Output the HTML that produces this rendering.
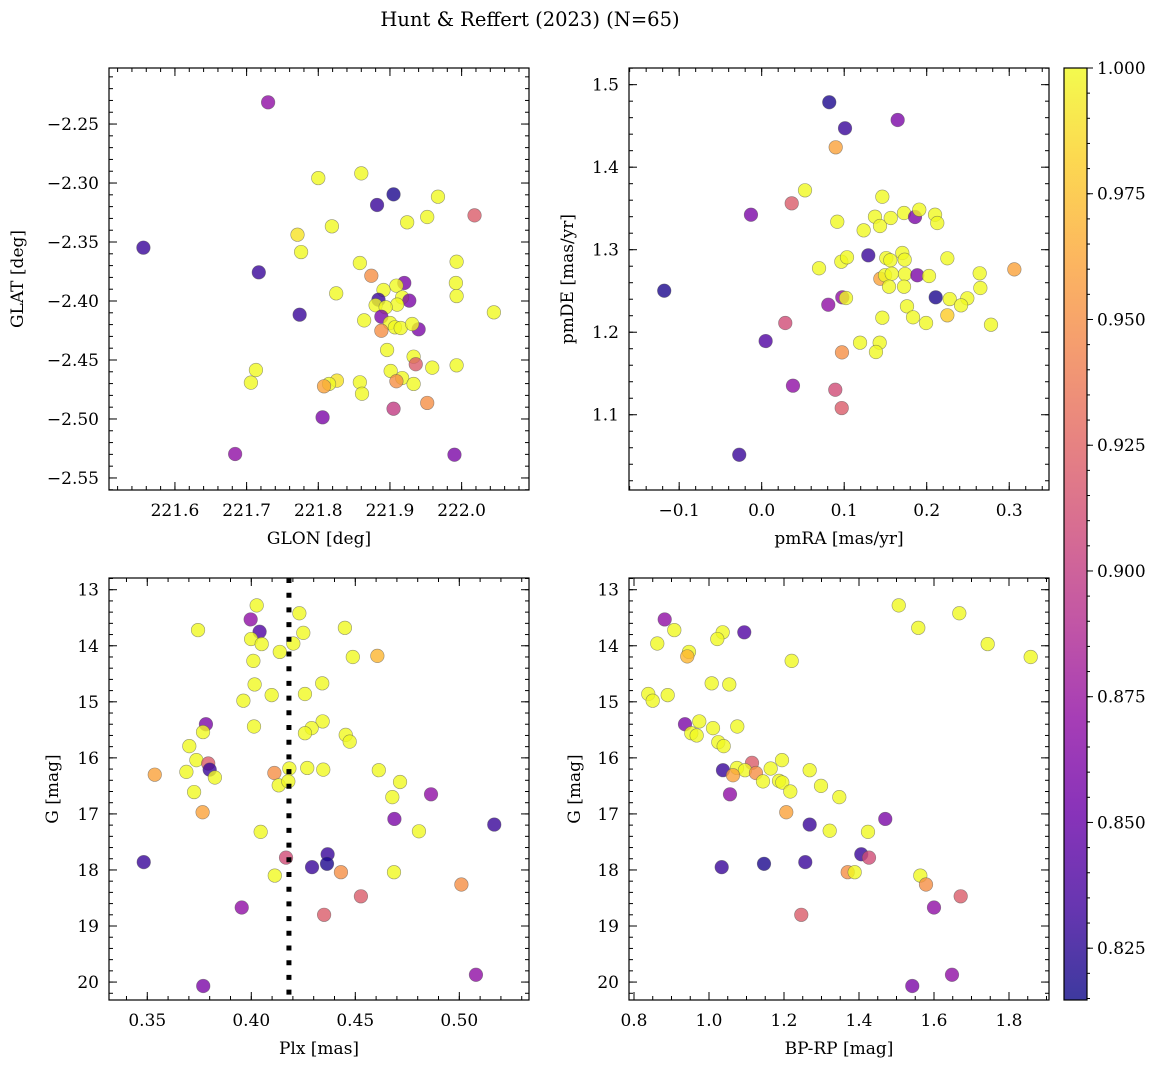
<!DOCTYPE html>
<html><head><meta charset="utf-8"><style>
html,body{margin:0;padding:0;background:#fff;}
svg{display:block;font-family:"DejaVu Serif","Liberation Serif",serif;}
</style></head><body>
<svg id="fig" width="1161" height="1067" viewBox="0 0 1161 1067" xmlns="http://www.w3.org/2000/svg">
<defs>
<linearGradient id="plasmaGrad" x1="0" y1="1" x2="0" y2="0">
<stop offset="0" stop-color="#0d0887"/><stop offset="0.1" stop-color="#41049d"/><stop offset="0.2" stop-color="#6a00a8"/><stop offset="0.3" stop-color="#8f0da4"/><stop offset="0.4" stop-color="#b12a90"/><stop offset="0.5" stop-color="#cc4778"/><stop offset="0.6" stop-color="#e16462"/><stop offset="0.7" stop-color="#f2844b"/><stop offset="0.8" stop-color="#fca636"/><stop offset="0.9" stop-color="#fcce25"/><stop offset="1" stop-color="#f0f921"/>
</linearGradient>
</defs>
<text x="530" y="26" font-size="19.5" text-anchor="middle">Hunt &amp; Reffert (2023) (N=65)</text>
</svg>
<script>
// ---- Panel 1: GLON vs GLAT ----
const p1Glon=[221.730,221.556,221.717,221.774,221.800,221.860,221.905,221.882,221.967,221.952,221.924,222.018,221.819,221.771,221.776,221.858,221.993,221.874,221.920,221.992,221.825,221.891,221.909,221.993,221.884,221.917,221.927,221.910,221.880,221.894,222.045,221.888,221.864,221.900,221.940,221.888,221.907,221.915,221.931,221.896,221.933,221.936,221.959,221.993,221.901,221.917,221.909,221.933,221.713,221.706,221.826,221.815,221.808,221.858,221.861,221.952,221.905,221.806,221.684,221.990];
const p1Glat=[-2.2316,-2.3548,-2.3757,-2.4116,-2.2958,-2.2918,-2.3096,-2.3186,-2.3116,-2.3288,-2.3333,-2.3274,-2.3367,-2.3438,-2.3585,-2.3678,-2.3667,-2.3786,-2.3847,-2.3847,-2.3935,-2.3907,-2.3870,-2.3958,-2.3989,-2.3969,-2.3997,-2.4031,-2.4036,-2.4053,-2.4096,-2.4133,-2.4164,-2.4186,-2.4240,-2.4252,-2.4223,-2.4229,-2.4195,-2.4415,-2.4472,-2.4536,-2.4565,-2.4545,-2.4593,-2.4653,-2.4680,-2.4703,-2.4585,-2.4692,-2.4675,-2.4703,-2.4723,-2.4689,-2.4786,-2.4864,-2.4913,-2.4986,-2.5297,-2.5303];
const p1Prob=[0.87,0.83,0.83,0.83,1,1,0.82,0.83,1,1,1,0.92,1,0.99,1,1,1,0.95,0.86,1,1,1,1,1,0.83,1,0.86,1,1,1,1,0.86,1,1,0.86,0.95,1,1,1,1,1,0.92,1,1,1,1,0.95,1,1,1,0.99,1,0.96,1,1,0.95,0.90,0.86,0.87,0.86];
// ---- Panel 2: pmRA vs pmDE ----
const p2Pmra=[0.0819,0.101,0.1648,0.0897,0.0525,0.0364,-0.013,0.1462,0.0916,0.1236,0.1373,0.1434,0.1564,0.1725,0.1858,0.191,0.2101,0.2128,0.1292,0.0695,0.0965,0.1034,0.151,0.1559,0.1704,0.1733,0.225,0.3062,0.1438,0.1495,0.1576,0.1737,0.1886,0.2028,0.2642,0.1543,0.1725,0.265,-0.1181,0.0977,0.1022,0.2109,0.2279,0.2492,0.2416,0.0807,0.1761,0.1834,0.1992,0.225,0.1462,0.2779,0.0286,0.1192,0.143,0.1385,0.0048,0.0973,0.0379,0.0892,0.097,-0.0272];
const p2Pmde=[1.4787,1.4472,1.4572,1.4241,1.372,1.3562,1.3424,1.3642,1.3339,1.3235,1.34,1.3287,1.3384,1.3445,1.3396,1.3485,1.3424,1.3324,1.2932,1.2775,1.2855,1.2908,1.2899,1.2872,1.296,1.2879,1.2896,1.2762,1.2648,1.269,1.2709,1.2705,1.269,1.2681,1.2714,1.2552,1.2552,1.2536,1.2503,1.2423,1.2415,1.2423,1.2402,1.2411,1.2326,1.2333,1.2314,1.2181,1.2112,1.2205,1.2176,1.2091,1.2112,1.1873,1.1873,1.176,1.1893,1.1756,1.1352,1.1303,1.1081,1.0515];
const p2Prob=[0.82,0.83,0.86,0.96,1,0.92,0.86,1,1,1,1,1,1,1,0.86,1,1,1,0.83,1,1,1,1,1,1,1,1,0.96,0.96,1,1,1,0.86,1,1,1,1,1,0.82,0.87,1,0.82,1,1,1,0.87,1,1,1,0.98,1,1,0.91,1,1,1,0.84,0.95,0.87,0.91,0.92,0.83];
// ---- Panel 3: Plx vs G ----
const p3Plx=[0.4026,0.4231,0.3997,0.3744,0.404,0.425,0.445,0.3999,0.405,0.4202,0.4137,0.4488,0.4606,0.401,0.4016,0.4341,0.4098,0.4258,0.3962,0.3782,0.4013,0.4343,0.429,0.4258,0.3768,0.4454,0.4473,0.3702,0.3736,0.3793,0.38,0.3688,0.3825,0.3536,0.4111,0.4183,0.4132,0.4178,0.4269,0.4346,0.4613,0.4715,0.3725,0.4678,0.3766,0.4864,0.4688,0.5168,0.4045,0.4806,0.4167,0.3483,0.4367,0.4364,0.4292,0.4431,0.4686,0.4113,0.501,0.4527,0.3954,0.435,0.3769,0.508];
const p3G=[13.28,13.42,13.53,13.72,13.75,13.77,13.68,13.88,13.97,13.96,14.11,14.20,14.18,14.27,14.69,14.67,14.88,14.86,14.98,15.40,15.44,15.35,15.47,15.56,15.54,15.59,15.71,15.79,16.04,16.10,16.21,16.25,16.35,16.30,16.27,16.19,16.49,16.42,16.18,16.21,16.22,16.43,16.61,16.70,16.97,16.65,17.09,17.19,17.32,17.31,17.78,17.86,17.72,17.89,17.95,18.04,18.04,18.10,18.26,18.47,18.67,18.80,20.07,19.87];
const p3Prob=[1,1,0.87,1,0.84,1,1,1,1,1,1,1,0.97,1,1,1,1,1,1,0.86,1,1,1,1,1,1,1,1,1,0.92,0.83,1,1,0.96,0.95,1,1,1,1,1,1,1,1,1,0.96,0.87,0.86,0.83,1,1,0.91,0.83,0.83,0.82,0.83,0.95,1,1,0.95,0.92,0.87,0.92,0.86,0.87];
const plxMedian=[0.4181];
// ---- Panel 4: BP-RP vs G ----
const p4Bprp=[1.506,1.6675,0.8819,0.9075,1.5581,1.0941,1.0365,1.0221,0.8621,1.7432,0.9467,0.9421,1.8579,1.2205,1.0072,1.0541,0.8381,0.8899,0.8499,0.936,0.9741,1.0107,1.0755,0.9528,0.9672,1.0248,1.0392,1.1947,1.1147,1.0747,1.096,1.0373,1.1645,1.2685,1.1253,1.064,1.144,1.1867,1.1955,1.2168,1.2987,1.3475,1.056,1.2061,1.2685,1.4701,1.3219,1.424,1.4061,1.4267,1.0339,1.1467,1.2568,1.3699,1.3885,1.5635,1.5787,1.6712,1.60,1.2461,1.648,1.5421];
const p4G=[13.28,13.42,13.53,13.72,13.68,13.76,13.76,13.88,13.96,13.97,14.11,14.19,14.20,14.27,14.67,14.69,14.86,14.88,14.98,15.40,15.35,15.47,15.44,15.56,15.60,15.72,15.79,16.04,16.09,16.18,16.22,16.22,16.19,16.22,16.27,16.31,16.42,16.41,16.44,16.60,16.50,16.70,16.65,16.97,17.19,17.09,17.30,17.32,17.72,17.78,17.95,17.89,17.86,18.04,18.04,18.10,18.26,18.47,18.67,18.80,19.87,20.07];
const p4Prob=[1,1,0.87,1,1,0.84,1,1,1,1,1,0.97,1,1,1,1,1,1,1,0.86,1,1,1,1,1,1,1,1,0.92,1,1,0.83,1,1,0.95,0.96,1,1,1,1,1,1,0.87,0.96,0.83,0.86,1,1,0.83,0.91,0.83,0.82,0.83,0.95,1,1,0.95,0.92,0.87,0.92,0.87,0.86];
// ---- Colorbar ----
const cbTicks=[0.825,0.850,0.875,0.900,0.925,0.950,0.975,1.000];
const cbRange=[0.8147,1.0];

const NS='http://www.w3.org/2000/svg';
const svg=document.getElementById('fig');
function mk(tag,attrs,parent){const e=document.createElementNS(NS,tag);for(const k in attrs)e.setAttribute(k,attrs[k]);(parent||svg).appendChild(e);return e;}
const stops=[[0,[13,8,135]],[0.1,[65,4,157]],[0.2,[106,0,168]],[0.3,[143,13,164]],[0.4,[177,42,144]],[0.5,[204,71,120]],[0.6,[225,100,98]],[0.7,[242,132,75]],[0.8,[252,166,54]],[0.9,[252,206,37]],[1,[240,249,33]]];
function plasma(t){t=Math.max(0,Math.min(1,t));for(let i=1;i<stops.length;i++){if(t<=stops[i][0]){const a=stops[i-1],b=stops[i];const f=(t-a[0])/(b[0]-a[0]);const c=a[1].map((v,j)=>Math.round(v+(b[1][j]-v)*f));return 'rgb('+c.join(',')+')';}}return 'rgb(240,249,33)';}
function fmt(v,d){const s=Math.abs(v).toFixed(d);return (v<-1e-9?'\u2212':'')+s;}
const FS=17;

function panel(cfg){
  const g=mk('g',{});
  
  
  const [L,T,W,H]=cfg.box;
  const sx=v=>L+(v-cfg.xd[0])/(cfg.xd[1]-cfg.xd[0])*W;
  const sy=v=>T+(v-cfg.yd[0])/(cfg.yd[1]-cfg.yd[0])*H;
  const tg=mk('g',{stroke:'#000','stroke-width':1},g);
  const xlo=Math.min(...cfg.xd),xhi=Math.max(...cfg.xd),ylo=Math.min(...cfg.yd),yhi=Math.max(...cfg.yd);
  for(let k=Math.ceil(xlo/cfg.xminor-1e-6);k*cfg.xminor<=xhi+1e-9;k++){const x=sx(k*cfg.xminor);mk('line',{x1:x,y1:T+H,x2:x,y2:T+H-4},tg);mk('line',{x1:x,y1:T,x2:x,y2:T+4},tg);}
  for(let k=Math.ceil(ylo/cfg.yminor-1e-6);k*cfg.yminor<=yhi+1e-9;k++){const y=sy(k*cfg.yminor);mk('line',{x1:L,y1:y,x2:L+4,y2:y},tg);mk('line',{x1:L+W,y1:y,x2:L+W-4,y2:y},tg);}
  cfg.xt.forEach(v=>{const x=sx(v);mk('line',{x1:x,y1:T+H,x2:x,y2:T+H-8},tg);mk('line',{x1:x,y1:T,x2:x,y2:T+8},tg);
    const t=mk('text',{x:x,y:T+H+26,'font-size':FS,'text-anchor':'middle'},g);t.textContent=fmt(v,cfg.xdp);
    
    });
  cfg.yt.forEach(v=>{const y=sy(v);mk('line',{x1:L,y1:y,x2:L+8,y2:y},tg);mk('line',{x1:L+W,y1:y,x2:L+W-8,y2:y},tg);
    const t=mk('text',{x:L-10,y:y+6,'font-size':FS,'text-anchor':'end'},g);t.textContent=fmt(v,cfg.ydp);
    
    });
  const pg=mk('g',{},g);
  
  
  for(let i=0;i<cfg.xs.length;i++){
    const c=mk('circle',{cx:sx(cfg.xs[i]),cy:sy(cfg.ys[i]),r:6.8,fill:plasma((cfg.cs[i]-cbRange[0])/(cbRange[1]-cbRange[0])),'fill-opacity':0.8,stroke:'#555','stroke-opacity':0.6,'stroke-width':0.6},pg);
    
    
  }
  if(cfg.vline!==undefined){
    const l=mk('line',{x1:sx(cfg.vline),y1:T,x2:sx(cfg.vline),y2:T+H,stroke:'#000','stroke-width':5,'stroke-dasharray':'5 9.7'},g);
    
    
  }
  const fr=mk('rect',{x:L,y:T,width:W,height:H,fill:'none',stroke:'#000','stroke-width':1.2},g);
  
  
  const xl=mk('text',{x:L+W/2,y:T+H+54,'font-size':FS,'text-anchor':'middle'},g);xl.textContent=cfg.xlabel;
  
  
  const yx=cfg.ylx, yy=T+H/2;
  const yl=mk('text',{x:yx,y:yy,'font-size':FS,'text-anchor':'middle',transform:'rotate(-90 '+yx+' '+yy+')'},g);yl.textContent=cfg.ylabel;
  
  
}

panel({name:'glon-glat-panel',box:[109,68,420,422],xd:[221.508,222.094],yd:[-2.2025,-2.5602],xt:[221.6,221.7,221.8,221.9,222.0],yt:[-2.25,-2.30,-2.35,-2.40,-2.45,-2.50,-2.55],xminor:0.02,yminor:0.01,xdp:1,ydp:2,xs:p1Glon,ys:p1Glat,cs:p1Prob,xlabel:'GLON [deg]',ylabel:'GLAT [deg]',ylx:23});
panel({name:'pm-panel',box:[629,68,420,422],xd:[-0.1608,0.3482],yd:[1.5202,1.0088],xt:[-0.1,0.0,0.1,0.2,0.3],yt:[1.1,1.2,1.3,1.4,1.5],xminor:0.02,yminor:0.02,xdp:1,ydp:1,xs:p2Pmra,ys:p2Pmde,cs:p2Prob,xlabel:'pmRA [mas/yr]',ylabel:'pmDE [mas/yr]',ylx:573});
panel({name:'plx-g-panel',box:[109,578,420,422],xd:[0.3316,0.5335],yd:[12.791,20.32],xt:[0.35,0.40,0.45,0.50],yt:[13,14,15,16,17,18,19,20],xminor:0.01,yminor:0.2,xdp:2,ydp:0,xs:p3Plx,ys:p3G,cs:p3Prob,xlabel:'Plx [mas]',ylabel:'G [mag]',ylx:58,vline:plxMedian[0]});
panel({name:'color-magnitude-panel',box:[629,578,420,422],xd:[0.7867,1.9067],yd:[12.791,20.32],xt:[0.8,1.0,1.2,1.4,1.6,1.8],yt:[13,14,15,16,17,18,19,20],xminor:0.05,yminor:0.2,xdp:1,ydp:0,xs:p4Bprp,ys:p4G,cs:p4Prob,xlabel:'BP-RP [mag]',ylabel:'G [mag]',ylx:580});

(function(){
  const L=1064,T=68,W=23,H=932;
  const g=mk('g',{});
  
  
  const r=mk('rect',{x:L,y:T,width:W,height:H,fill:'url(#plasmaGrad)','fill-opacity':0.8},g);
  
  
  const sy=v=>T+H-(v-cbRange[0])/(cbRange[1]-cbRange[0])*H;
  for(let k=Math.ceil(cbRange[0]/0.005-1e-6);k*0.005<=cbRange[1]+1e-9;k++){const y=sy(k*0.005);mk('line',{x1:L+W,y1:y,x2:L+W+3,y2:y,stroke:'#000','stroke-width':1},g);}
  cbTicks.forEach(v=>{const y=sy(v);mk('line',{x1:L+W,y1:y,x2:L+W+6,y2:y,stroke:'#000','stroke-width':1},g);
    const t=mk('text',{x:L+W+10,y:y+6,'font-size':FS},g);t.textContent=v.toFixed(3);
    
    });
  mk('rect',{x:L,y:T,width:W,height:H,fill:'none',stroke:'#000','stroke-width':1.2},g);
})();
</script>
</body></html>
